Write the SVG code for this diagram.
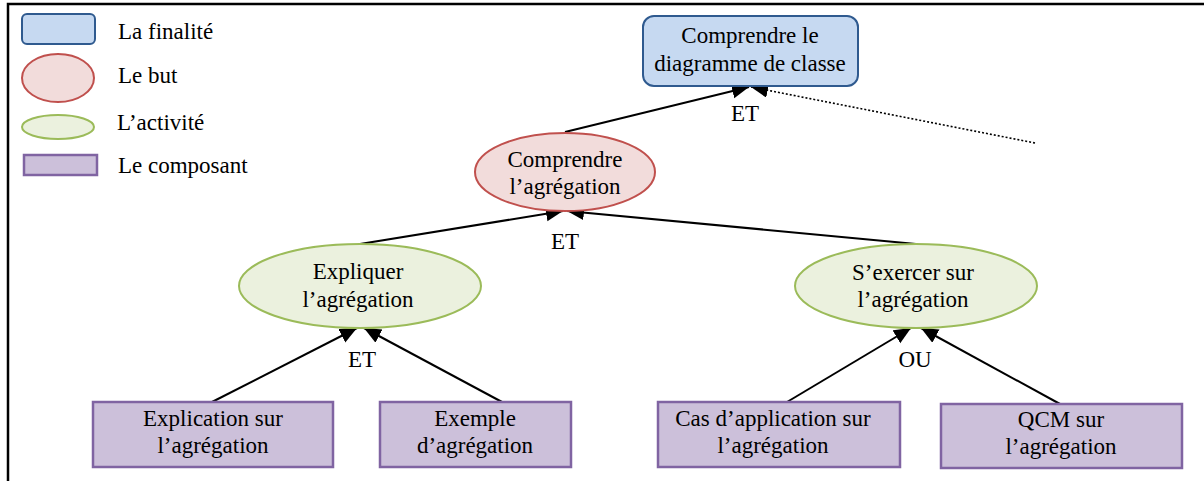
<svg xmlns="http://www.w3.org/2000/svg" width="1204" height="481" viewBox="0 0 1204 481">
  <style>
    text { font-family: "Liberation Serif", Tinos, "Nimbus Roman", "Nimbus Roman No9 L", Times, "Noto Serif", "DejaVu Serif", FreeSerif, serif; font-size: 23px; fill: #000; }
    .c { text-anchor: middle; }
    .goal { fill: #c6d9f1; stroke: #2f5a8f; stroke-width: 2; }
    .aim { fill: #f2dcdb; stroke: #c0504d; stroke-width: 2; }
    .act { fill: #ebf1de; stroke: #9bbb59; stroke-width: 2; }
    .comp { fill: #ccc0da; stroke: #8064a2; stroke-width: 2.5; }
    .link { stroke: #000; stroke-width: 2; fill: none; marker-end: url(#head); }
    .dot { stroke: #000; stroke-width: 1.6; fill: none; stroke-dasharray: 2 2; marker-end: url(#head); }
    .frame { stroke: #000; stroke-width: 2.5; fill: none; }
  </style>
  <defs>
    <marker id="head" markerUnits="userSpaceOnUse" markerWidth="18" markerHeight="16" refX="17" refY="7.5" orient="auto">
      <path d="M0,0 L17,7.5 L0,15 z" fill="#000"/>
    </marker>
  </defs>
  <rect width="1204" height="481" fill="#fff"/>
  <!-- outer frame -->
  <path class="frame" d="M8,481 L8,4 L1204,4"/>

  <!-- legend -->
  <g id="legend">
    <rect class="goal" x="22" y="14" width="73" height="30" rx="5"/>
    <text x="118" y="39">La finalité</text>
    <ellipse class="aim" cx="58" cy="78" rx="36" ry="24"/>
    <text x="118" y="83">Le but</text>
    <ellipse class="act" cx="58" cy="127" rx="36" ry="12"/>
    <text x="117" y="130">L’activité</text>
    <rect class="comp" x="24" y="155" width="73" height="20"/>
    <text x="118" y="173">Le composant</text>
  </g>

  <!-- connectors -->
  <g id="connectors">
    <line class="link" x1="565" y1="132" x2="749" y2="87"/>
    <line class="dot" x1="1035" y1="143" x2="751" y2="87"/>
    <line class="link" x1="360" y1="244" x2="563" y2="211"/>
    <line class="link" x1="916" y1="244" x2="567" y2="211"/>
    <line class="link" x1="212" y1="402" x2="357" y2="328"/>
    <line class="link" x1="502" y1="402" x2="364" y2="328"/>
    <line class="link" x1="787" y1="402" x2="911" y2="328"/>
    <line class="link" x1="1060" y1="404" x2="921" y2="328"/>
    <text class="c" x="745" y="121">ET</text>
    <text class="c" x="565" y="249">ET</text>
    <text class="c" x="362" y="367">ET</text>
    <text class="c" x="915" y="367">OU</text>
  </g>

  <!-- nodes -->
  <g id="n-diagramme">
    <rect class="goal" x="643" y="16" width="215" height="70" rx="11"/>
    <text class="c" x="750" y="43">Comprendre le</text>
    <text class="c" x="750" y="71">diagramme de classe</text>
  </g>
  <g id="n-agregation">
    <ellipse class="aim" cx="565" cy="172" rx="90" ry="39"/>
    <text class="c" x="565" y="167">Comprendre</text>
    <text class="c" x="565" y="194">l’agrégation</text>
  </g>
  <g id="n-expliquer">
    <ellipse class="act" cx="360" cy="286" rx="121" ry="42"/>
    <text class="c" x="358" y="279">Expliquer</text>
    <text class="c" x="358" y="307">l’agrégation</text>
  </g>
  <g id="n-exercer">
    <ellipse class="act" cx="916" cy="286" rx="121" ry="42"/>
    <text class="c" x="913" y="280">S’exercer sur</text>
    <text class="c" x="913" y="307">l’agrégation</text>
  </g>
  <g id="n-explication">
    <rect class="comp" x="93" y="402" width="240" height="65"/>
    <text class="c" x="213" y="426">Explication sur</text>
    <text class="c" x="213" y="453">l’agrégation</text>
  </g>
  <g id="n-exemple">
    <rect class="comp" x="380" y="402" width="191" height="65"/>
    <text class="c" x="475" y="426">Exemple</text>
    <text class="c" x="475" y="453">d’agrégation</text>
  </g>
  <g id="n-cas">
    <rect class="comp" x="658" y="402" width="242" height="65"/>
    <text class="c" x="773" y="426">Cas d’application sur</text>
    <text class="c" x="773" y="453">l’agrégation</text>
  </g>
  <g id="n-qcm">
    <rect class="comp" x="941" y="404" width="241" height="64"/>
    <text class="c" x="1061" y="427">QCM sur</text>
    <text class="c" x="1061" y="454">l’agrégation</text>
  </g>
</svg>
